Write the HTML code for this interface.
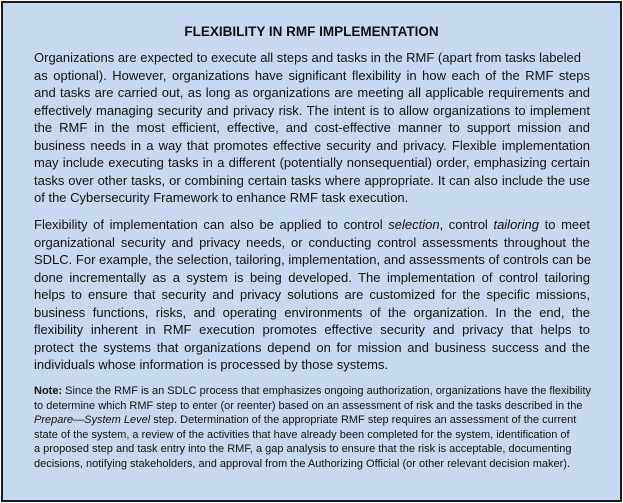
<!DOCTYPE html>
<html><head><meta charset="utf-8"><style>
html,body{margin:0;padding:0;background:#fff;}
#box{position:absolute;left:1px;top:1px;width:617px;height:497px;border:2px solid #1a1a1a;background:#c6d9f1;font-family:"Liberation Sans",sans-serif;color:#111;}
.t{position:absolute;left:0;width:617px;top:20px;text-align:center;font-weight:bold;font-size:13.5px;line-height:18px;}
.l{position:absolute;left:31px;width:556px;white-space:nowrap;font-size:13px;line-height:17.5px;text-align:justify;text-align-last:justify;}
.l.r{text-align-last:left;}
.n{position:absolute;left:31px;white-space:nowrap;font-size:11px;line-height:14.6px;}
</style></head><body>
<div id="box">
<div class="t">FLEXIBILITY IN RMF IMPLEMENTATION</div>
<div>
<div class="l r" style="top:46px">Organizations are expected to execute all steps and tasks in the RMF (apart from tasks labeled</div>
<div class="l" style="top:63.5px">as optional). However, organizations have significant flexibility in how each of the RMF steps</div>
<div class="l" style="top:81px">and tasks are carried out, as long as organizations are meeting all applicable requirements and</div>
<div class="l" style="top:98.5px">effectively managing security and privacy risk. The intent is to allow organizations to implement</div>
<div class="l" style="top:116px">the RMF in the most efficient, effective, and cost-effective manner to support mission and</div>
<div class="l" style="top:133.5px">business needs in a way that promotes effective security and privacy. Flexible implementation</div>
<div class="l" style="top:151px">may include executing tasks in a different (potentially nonsequential) order, emphasizing certain</div>
<div class="l" style="top:168.5px">tasks over other tasks, or combining certain tasks where appropriate. It can also include the use</div>
<div class="l r" style="top:186px">of the Cybersecurity Framework to enhance RMF task execution.</div>
</div>
<div>
<div class="l" style="top:213px">Flexibility of implementation can also be applied to control <i>selection</i>, control <i>tailoring</i> to meet</div>
<div class="l" style="top:230.5px">organizational security and privacy needs, or conducting control assessments throughout the</div>
<div class="l" style="top:248px">SDLC. For example, the selection, tailoring, implementation, and assessments of controls can be</div>
<div class="l" style="top:265.5px">done incrementally as a system is being developed. The implementation of control tailoring</div>
<div class="l" style="top:283px">helps to ensure that security and privacy solutions are customized for the specific missions,</div>
<div class="l" style="top:300.5px">business functions, risks, and operating environments of the organization. In the end, the</div>
<div class="l" style="top:318px">flexibility inherent in RMF execution promotes effective security and privacy that helps to</div>
<div class="l" style="top:335.5px">protect the systems that organizations depend on for mission and business success and the</div>
<div class="l r" style="top:353px">individuals whose information is processed by those systems.</div>
</div>
<div>
<div class="n" style="top:381px"><b>Note:</b> Since the RMF is an SDLC process that emphasizes ongoing authorization, organizations have the flexibility</div>
<div class="n" style="top:395.6px">to determine which RMF step to enter (or reenter) based on an assessment of risk and the tasks described in the</div>
<div class="n" style="top:410.2px"><i>Prepare—System Level</i> step. Determination of the appropriate RMF step requires an assessment of the current</div>
<div class="n" style="top:424.8px">state of the system, a review of the activities that have already been completed for the system, identification of</div>
<div class="n" style="top:439.4px">a proposed step and task entry into the RMF, a gap analysis to ensure that the risk is acceptable, documenting</div>
<div class="n" style="top:454px">decisions, notifying stakeholders, and approval from the Authorizing Official (or other relevant decision maker).</div>
</div>
</div>
</body></html>
